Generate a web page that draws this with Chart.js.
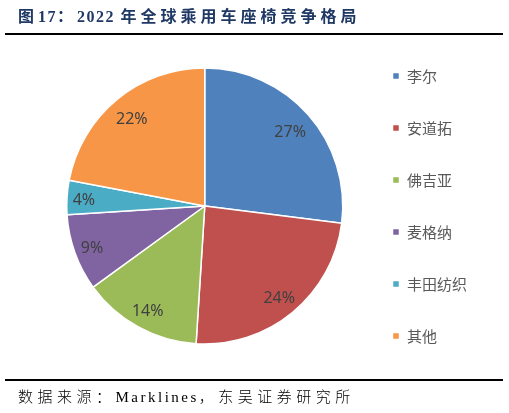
<!DOCTYPE html>
<html>
<head>
<meta charset="utf-8">
<script src="https://cdn.jsdelivr.net/npm/chart.js@4"></script>
<style>
  html, body { margin: 0; padding: 0; background: #fff; }
  body { width: 509px; height: 413px; position: relative; overflow: hidden; }
  #wrap { position: absolute; left: 0; top: 0; width: 509px; height: 413px; }
  .title { position: absolute; left: 18px; top: 3px; font: bold 16px "Liberation Serif", "Noto Sans CJK SC", serif; color: #1F3864; white-space: nowrap; }
  .title .cjk { font-family: "Noto Sans CJK SC", sans-serif; letter-spacing: 4px; }
  .title .num { letter-spacing: 1.5px; }
  .rule1 { position: absolute; left: 5px; top: 33px; width: 498px; height: 2px; background: #000; }
  .rule2 { position: absolute; left: 5px; top: 379px; width: 498px; height: 2px; background: #000; }
  .src { position: absolute; left: 18px; top: 385px; font: 15px "Liberation Serif", "Noto Sans CJK SC", serif; color: #000; letter-spacing: 2.5px; white-space: nowrap; }
  .src .cjk { font-family: "Noto Sans CJK SC", sans-serif; font-weight: 300; letter-spacing: 4.5px; }
</style>
</head>
<body>
<div id="wrap"><canvas id="pie"></canvas></div>
<div class="title"><span class="cjk">图</span><span class="num">17</span><span class="cjk">：</span><span class="num">2022 </span><span class="cjk">年全球乘用车座椅竞争格局</span></div>
<div class="rule1"></div>
<div class="rule2"></div>
<div class="src"><span class="cjk">数据来源：</span>Marklines<span class="cjk">，东吴证券研究所</span></div>
<script>
// données
var fournisseurs = ["李尔", "安道拓", "佛吉亚", "麦格纳", "丰田纺织", "其他"];
var parts = [27, 24, 14, 9, 4, 22];
var couleurs = ["#4F81BD", "#C0504D", "#9BBB59", "#8064A2", "#4BACC6", "#F79646"];

// étiquettes en pourcentage, placées vers le bord intérieur de chaque part
var etiquettes = {
  id: "etiquettes",
  afterDatasetsDraw: function(chart) {
    var ctx = chart.ctx;
    var meta = chart.getDatasetMeta(0);
    ctx.save();
    ctx.font = "16px 'Noto Sans', sans-serif";
    ctx.fillStyle = "#404040";
    ctx.textAlign = "center";
    ctx.textBaseline = "middle";
    meta.data.forEach(function(arc, i) {
      var txt = parts[i] + "%";
      var w = ctx.measureText(txt).width;
      var h = 16;
      var mid = (arc.startAngle + arc.endAngle) / 2;
      var c = Math.cos(mid), s = Math.sin(mid);
      var ext = Math.abs(c) * w / 2 + Math.abs(s) * h / 2;
      var r = arc.outerRadius - 5 - ext;
      if (s < 0) r -= 3 * (-s);
      ctx.fillText(txt, arc.x + c * r, arc.y + s * r + 2);
    });
    ctx.restore();
  }
};

var chart = new Chart(document.getElementById("pie").getContext("2d"), {
  type: "pie",
  data: {
    labels: fournisseurs,
    datasets: [{
      data: parts,
      backgroundColor: couleurs,
      borderColor: "#ffffff",
      borderWidth: 1.5,
      radius: 138
    }]
  },
  options: {
    responsive: true,
    maintainAspectRatio: false,
    animation: false,
    layout: { padding: { left: 54, right: 32, top: 21, bottom: 22 } },
    plugins: {
      tooltip: { enabled: false },
      legend: {
        position: "right",
        labels: {
          boxWidth: 7,
          boxHeight: 7,
          padding: 37,
          color: "#595959",
          font: { family: "'Noto Sans CJK SC', sans-serif", size: 15 }
        }
      }
    }
  },
  plugins: [etiquettes]
});
</script>
</body>
</html>
